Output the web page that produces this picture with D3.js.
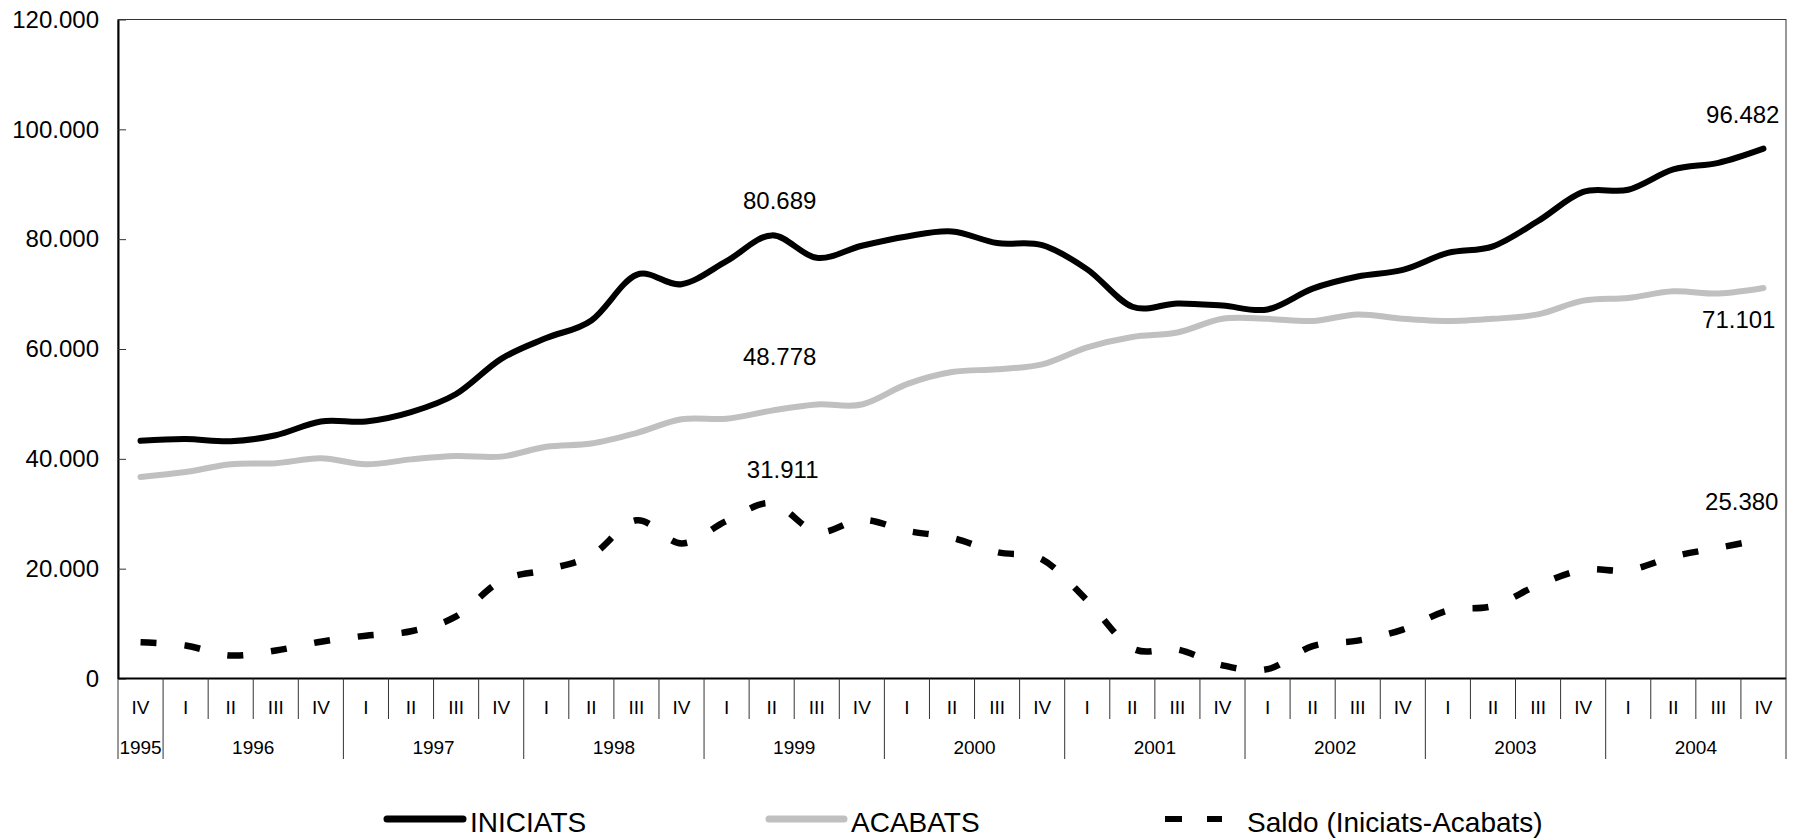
<!DOCTYPE html>
<html>
<head>
<meta charset="utf-8">
<script src="https://cdn.jsdelivr.net/npm/d3@7"></script>
<style>
  body { margin: 0; background: #fff; }
  text { font-family: Arial, "Liberation Sans", sans-serif; fill: #000; }
</style>
</head>
<body>
<script>
// quarters shown on the x axis (1995 IV .. 2004 IV)
var quarters = ["IV",
  "I","II","III","IV", "I","II","III","IV", "I","II","III","IV",
  "I","II","III","IV", "I","II","III","IV", "I","II","III","IV",
  "I","II","III","IV", "I","II","III","IV", "I","II","III","IV"];
var years = [1995,
  1996,1996,1996,1996, 1997,1997,1997,1997, 1998,1998,1998,1998,
  1999,1999,1999,1999, 2000,2000,2000,2000, 2001,2001,2001,2001,
  2002,2002,2002,2002, 2003,2003,2003,2003, 2004,2004,2004,2004];

var iniciats = [43300,
  43600,43200,44300,46800, 46800,48500,51800,58200, 62000,65200,73500,71800,
  76000,80689,76600,78800, 80500,81400,79300,78900, 74500,67700,68300,67900,
  67200,71000,73200,74400, 77500,78700,83300,88600, 89000,92700,93900,96482];
var acabats = [36700,
  37600,39000,39200,40100, 39000,39900,40500,40400, 42200,42800,44700,47200,
  47300,48778,49900,49900, 53600,55800,56300,57200, 60300,62200,63000,65500,
  65500,65100,66300,65500, 65100,65500,66300,68800, 69300,70500,70100,71101];
var saldo = [6600,
  6000,4200,5100,6700, 7800,8600,11300,17800, 19800,22400,28800,24600,
  28700,31911,26700,28900, 26900,25600,23000,21700, 14200,5500,5300,2400,
  1700,5900,6900,8900, 12400,13200,17000,19800, 19700,22200,23800,25380];

var yTicks = [0, 20000, 40000, 60000, 80000, 100000, 120000];

// layout (plotTop, not "top": window.top is read-only)
var width = 1794, height = 838;
var plotLeft = 118, plotRight = 1786, plotTop = 19.5, plotBottom = 678.5;

var locale = d3.formatLocale({decimal: ",", thousands: ".", grouping: [3], currency: ["", "€"]});
var fmt = locale.format(",d");

var svg = d3.select("body").append("svg")
  .attr("width", width)
  .attr("height", height);

var x = d3.scaleBand().domain(d3.range(quarters.length)).range([plotLeft, plotRight]).padding(0);
var y = d3.scaleLinear().domain([0, 120000]).range([plotBottom, plotTop]);
var cx = function(i) { return x(i) + x.bandwidth() / 2; };

// frame
svg.append("rect")
  .attr("x", plotLeft).attr("y", plotTop)
  .attr("width", plotRight - plotLeft).attr("height", plotBottom - plotTop)
  .attr("fill", "none").attr("stroke", "#333").attr("stroke-width", 1);

// y axis
var yAxis = svg.append("g")
  .attr("transform", "translate(" + plotLeft + ",0)")
  .call(d3.axisLeft(y).tickValues(yTicks).tickFormat(fmt)
    .tickSizeInner(-8).tickSizeOuter(0).tickPadding(19));
yAxis.select(".domain").attr("stroke", "#000").attr("stroke-width", 2);
yAxis.selectAll(".tick line").attr("stroke", "#333");
yAxis.selectAll("text").attr("font-size", 24).attr("font-family", "Arial, 'Liberation Sans', sans-serif").attr("fill", "#000");

// x axis: quarter cells and year groups
var xg = svg.append("g");
xg.append("line")
  .attr("x1", plotLeft).attr("x2", plotRight).attr("y1", plotBottom).attr("y2", plotBottom)
  .attr("stroke", "#000").attr("stroke-width", 2);

d3.range(quarters.length + 1).forEach(function(i) {
  var xx = i < quarters.length ? x(i) : plotRight;
  var yearEdge = i === 0 || i === quarters.length || quarters[i] === "I";
  xg.append("line")
    .attr("x1", xx).attr("x2", xx)
    .attr("y1", plotBottom).attr("y2", yearEdge ? 759 : 719)
    .attr("stroke", "#333").attr("stroke-width", 1);
});

xg.selectAll(".q").data(quarters).enter().append("text")
  .attr("x", function(d, i) { return cx(i); })
  .attr("y", 707)
  .attr("dy", "0.35em")
  .attr("text-anchor", "middle")
  .attr("font-size", 19)
  .text(function(d) { return d; });

var yearGroups = d3.groups(d3.range(years.length), function(i) { return years[i]; });
xg.selectAll(".yr").data(yearGroups).enter().append("text")
  .attr("x", function(d) {
    var a = d[1][0], b = d[1][d[1].length - 1];
    return (x(a) + x(b) + x.bandwidth()) / 2;
  })
  .attr("y", 747)
  .attr("dy", "0.35em")
  .attr("text-anchor", "middle")
  .attr("font-size", 19)
  .text(function(d) { return d[0]; });

// lines
var line = d3.line()
  .x(function(d, i) { return cx(i); })
  .y(function(d) { return y(d); })
  .curve(d3.curveCatmullRom.alpha(0));

svg.append("path").datum(acabats)
  .attr("d", line).attr("fill", "none")
  .attr("stroke", "#c0c0c0").attr("stroke-width", 6).attr("stroke-linecap", "round");

svg.append("path").datum(iniciats)
  .attr("d", line).attr("fill", "none")
  .attr("stroke", "#000").attr("stroke-width", 6).attr("stroke-linecap", "round");

svg.append("path").datum(saldo)
  .attr("d", line).attr("fill", "none")
  .attr("stroke", "#000").attr("stroke-width", 6.5)
  .attr("stroke-dasharray", "16,28");

// value labels
var labels = [
  {s: iniciats, i: 14, dx: 8, dy: -26, anchor: "middle"},
  {s: acabats, i: 14, dx: 8, dy: -46, anchor: "middle"},
  {s: saldo, i: 14, dx: 11, dy: -25, anchor: "middle"},
  {s: iniciats, i: 36, dx: 16, dy: -26, anchor: "end"},
  {s: acabats, i: 36, dx: 12, dy: 40, anchor: "end"},
  {s: saldo, i: 36, dx: 15, dy: -29, anchor: "end"}
];
svg.selectAll(".lbl").data(labels).enter().append("text")
  .attr("x", function(d) { return cx(d.i) + d.dx; })
  .attr("y", function(d) { return y(d.s[d.i]) + d.dy; })
  .attr("text-anchor", function(d) { return d.anchor; })
  .attr("font-size", 24)
  .text(function(d) { return fmt(d.s[d.i]); });

// legend
var legend = [
  {name: "INICIATS", color: "#000", x: 387, len: 76, dash: null},
  {name: "ACABATS", color: "#c0c0c0", x: 769, len: 75, dash: null},
  {name: "Saldo (Iniciats-Acabats)", color: "#000", x: 1165, len: 57, dash: "17,25"}
];
var lg = svg.selectAll(".legend").data(legend).enter().append("g")
  .attr("transform", function(d) { return "translate(" + d.x + ",819)"; });
lg.append("line")
  .attr("x1", 0).attr("x2", function(d) { return d.len; })
  .attr("stroke", function(d) { return d.color; })
  .attr("stroke-width", function(d) { return d.dash ? 6 : 7; })
  .attr("stroke-linecap", function(d) { return d.dash ? "butt" : "round"; })
  .attr("stroke-dasharray", function(d) { return d.dash; });
lg.append("text")
  .attr("x", function(d) { return d.dash ? d.len + 25 : d.len + 7; })
  .attr("y", 13)
  .attr("font-size", 28)
  .text(function(d) { return d.name; });
</script>
</body>
</html>
